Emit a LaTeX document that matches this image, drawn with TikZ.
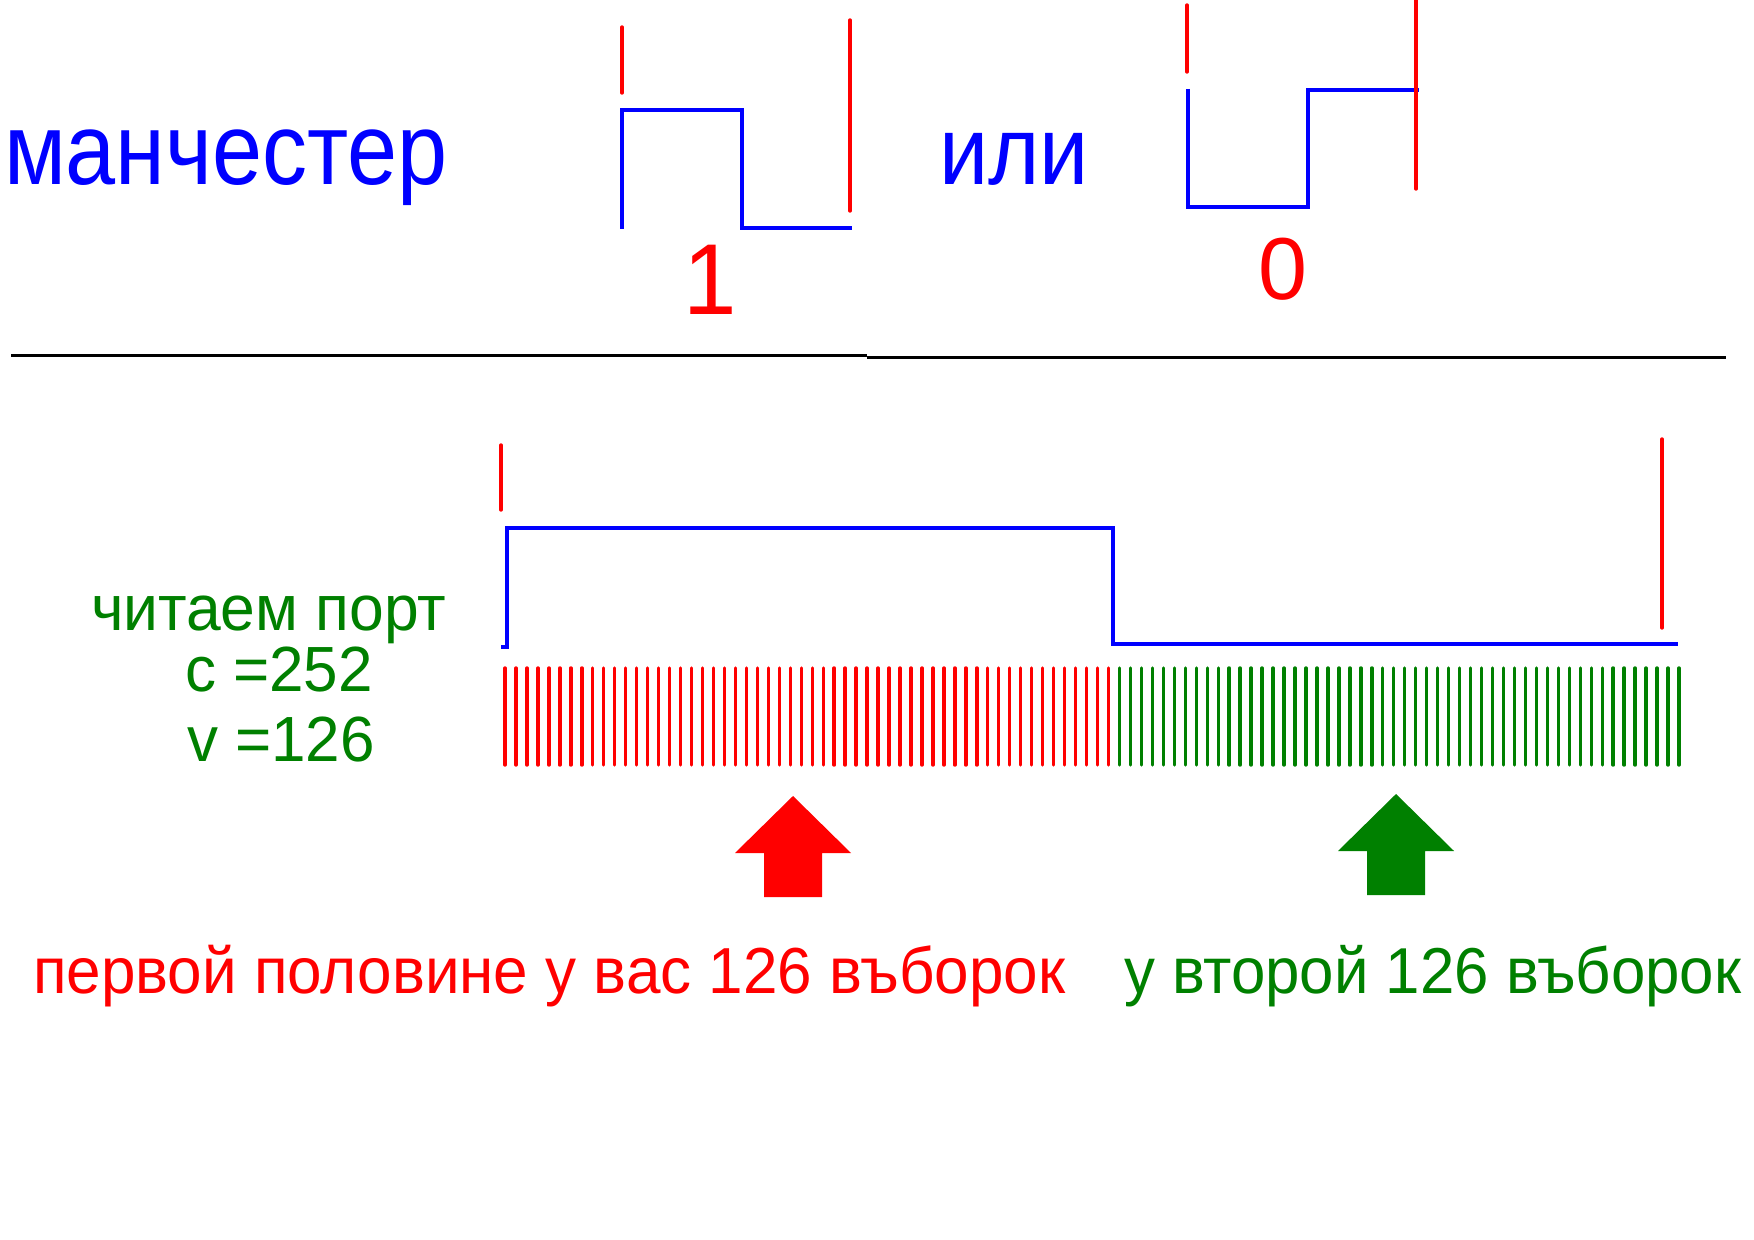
\documentclass[tikz,border=0pt]{standalone}
\usepackage{fontspec}
\setmainfont{Liberation Sans}
\usepackage{graphicx}
\definecolor{wblue}{RGB}{0,0,255}
\definecolor{wred}{RGB}{255,0,0}
\definecolor{wgreen}{RGB}{0,128,0}
\begin{document}
\begin{tikzpicture}[x=0.5pt,y=-0.5pt,
  wave/.style={wblue,line width=2pt,line join=miter},
  bitmark/.style={wred,line width=1.7pt,line cap=round},
  rtick/.style={wred,line width=1.7pt,line cap=round},
  gtick/.style={wgreen,line width=1.7pt,line cap=round},
  divider/.style={black,line width=1.5pt},
  lbl/.style={anchor=base west,inner sep=0pt,outer sep=0pt}]
\useasboundingbox[fill=white] (0,0) rectangle (1754,1240);

% top texts
\node[lbl,text=wblue,font=\fontsize{45}{45}\selectfont] (manch) at (4,185) {\scalebox{1}[1.13]{манчестер}};
\node[lbl,text=wblue,font=\fontsize{44}{44}\selectfont] (ili) at (939,185) {\scalebox{1}[1.1]{или}};
\node[lbl,text=wred,font=\fontsize{48}{48}\selectfont] (one) at (683,315) {\scalebox{1}[1.05]{1}};
\node[lbl,text=wred,font=\fontsize{44}{44}\selectfont] (zero) at (1258,300) {0};

% manchester "1"
\draw[wave] (622,229) -- (622,110) -- (742,110) -- (742,228) -- (852,228);
\draw[bitmark] (622,27) -- (622,93);
\draw[bitmark] (850,20) -- (850,211);

% manchester "0"
\draw[wave] (1188,89) -- (1188,207) -- (1308,207) -- (1308,90) -- (1419,90);
\draw[bitmark] (1187,5) -- (1187,72);
\draw[bitmark] (1416,0) -- (1416,189);

% divider
\draw[divider] (11,356) -- (867,356);
\draw[divider] (867,358) -- (1726,358);

% lower waveform
\draw[wave] (501,647) -- (507,647) -- (507,528) -- (1113,528) -- (1113,644) -- (1678,644);
\draw[bitmark] (501,445) -- (501,510);
\draw[bitmark] (1662,439) -- (1662,628);

% samples
\foreach \i [evaluate=\i as \xx using 505+\i*10.972] in {0,...,55}
  \draw[rtick] (\xx,668) -- (\xx,765);
\foreach \i [evaluate=\i as \xx using 505+\i*10.972] in {56,...,107}
  \draw[gtick] (\xx,668) -- (\xx,765);

% green labels
\node[lbl,text=wgreen,font=\fontsize{31.2}{31.2}\selectfont] (read) at (91,630) {\scalebox{1}[1.03]{читаем порт}};
\node[lbl,text=wgreen,font=\fontsize{31}{31}\selectfont] (cval) at (185,691) {\scalebox{1}[1.03]{c =252}};
\node[lbl,text=wgreen,font=\fontsize{31}{31}\selectfont] (vval) at (187,761) {\scalebox{1}[1.03]{v =126}};

% arrows
\fill[wred] (793,796) -- (851,853) -- (822,853) -- (822,897) -- (764,897) -- (764,853) -- (735,853) -- cycle;
\fill[wgreen] (1396,794) -- (1454,851) -- (1425,851) -- (1425,895) -- (1367,895) -- (1367,851) -- (1338,851) -- cycle;

% bottom texts
\node[lbl,text=wred,font=\fontsize{31}{31}\selectfont] (first) at (33,993) {\scalebox{1}[1.05]{первой половине у вас 126 въборок}};
\node[lbl,text=wgreen,font=\fontsize{30.9}{30.9}\selectfont] (second) at (1124,993) {\scalebox{1}[1.05]{у второй 126 въборок}};
\end{tikzpicture}
\end{document}
